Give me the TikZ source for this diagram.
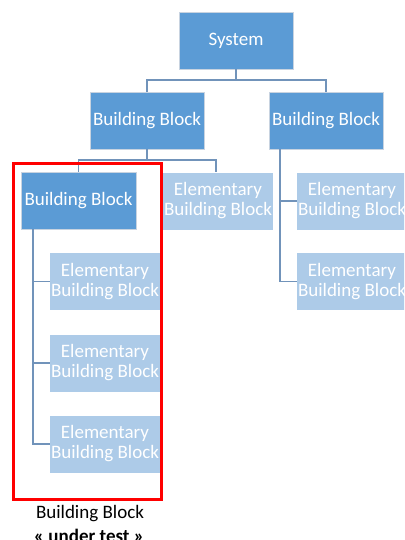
\documentclass[tikz,border=0pt]{standalone}
\usepackage{fontspec}
\setmainfont{Carlito}
\usetikzlibrary{calc}
\definecolor{blockdark}{HTML}{5B9BD5}
\definecolor{blocklight}{HTML}{ADCBE8}
\definecolor{blockedge}{HTML}{C8D3E0}
\definecolor{linkcol}{HTML}{7193BA}
\tikzset{
  darkblock/.style={fill=blockdark, draw=blockedge, line width=0.8pt,
    minimum width=114pt, minimum height=57pt, inner sep=0pt,
    text=white, font=\fontsize{19}{20}\selectfont},
  lightblock/.style={fill=blocklight, draw=none,
    minimum width=110pt, minimum height=57pt, inner sep=0pt,
    text=white, align=center, font=\fontsize{19}{20}\selectfont},
  link/.style={draw=linkcol, line width=1.8pt},
  frame/.style={draw=red, line width=3pt, minimum width=148pt,
    minimum height=336pt, inner sep=0pt},
  caption/.style={font=\fontsize{19}{20}\selectfont, anchor=base}
}
\begin{document}
\begin{tikzpicture}[x=1pt,y=-1pt]
\clip (0,0) rectangle (404,540);
\fill[white] (0,0) rectangle (404,540);

% top level and second level
\node[darkblock] (sys) at (236,40.5) {System};
\node[darkblock] (bbl) at (147,120.5) {Building Block};
\node[darkblock] (bbr) at (326,120.5) {Building Block};

% third level
\node[darkblock, minimum width=115pt] (bbt) at (78.5,200.5) {Building Block};
\node[lightblock] (ea) at (218,201) {Elementary\\Building Block};
\node[lightblock] (er1) at (352,201) {Elementary\\Building Block};
\node[lightblock] (er2) at (352,281.5) {Elementary\\Building Block};

% children of the block under test
\node[lightblock] (et1) at (105,281.5) {Elementary\\Building Block};
\node[lightblock] (et2) at (105,363) {Elementary\\Building Block};
\node[lightblock] (et3) at (105,444) {Elementary\\Building Block};

% tree connectors
\coordinate (sysbus) at (236,80);
\coordinate (bblbus) at (147,160);
\draw[link] (sys.south) -- (sysbus);
\draw[link] (bbl.north) |- (sysbus) -| (bbr.north);
\draw[link] (bbl.south) -- (bblbus);
\draw[link] (bbt.north) |- (bblbus) -| ($(ea.north)+(-2,0)$);

\coordinate (tspine) at ($(bbt.south west)+(12,0)$);
\draw[link] (tspine) |- (et3.west);
\draw[link] (tspine |- et1.west) -- (et1.west);
\draw[link] (tspine |- et2.west) -- (et2.west);

\coordinate (rspine) at ($(bbr.south west)+(11,0)$);
\draw[link] (rspine) |- (er2.west);
\draw[link] (rspine |- er1.west) -- (er1.west);

% highlighted block under test
\node[frame] (uut) at (87.5,331.5) {};
\node[caption] (cap1) at (90,518) {Building Block};
\node[caption] (cap2) at (89,542.5) {\bfseries « under test »};
\end{tikzpicture}
\end{document}
